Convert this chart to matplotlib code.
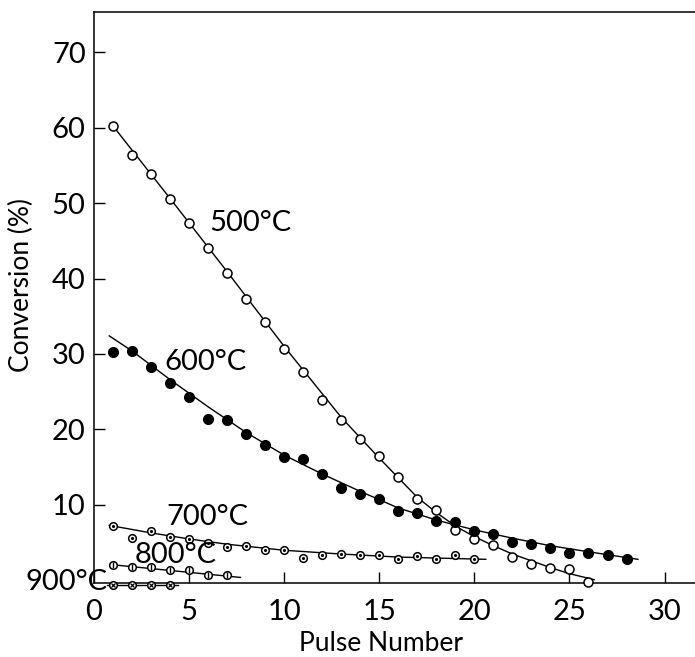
import numpy as np
import matplotlib
matplotlib.use("Agg")
import matplotlib.pyplot as plt

plt.rcParams['font.family'] = ['Lato', 'DejaVu Sans']

# ---------- data ----------
pulse_500 = [1, 2, 3, 4, 5, 6, 7, 8, 9, 10, 11, 12, 13, 14, 15, 16, 17, 18, 19, 20,
             21, 22, 23, 24, 25, 26]
conv_500 = [60.2, 56.3, 53.8, 50.5, 47.4, 44.0, 40.7, 37.3, 34.2, 30.7, 27.6, 23.9,
            21.3, 18.8, 16.5, 13.7, 10.8, 9.3, 6.7, 5.5, 4.7, 3.1, 2.2, 1.6, 1.5, -0.15]

pulse_600 = [1, 2, 3, 4, 5, 6, 7, 8, 9, 10, 11, 12, 13, 14, 15, 16, 17, 18, 19, 20,
             21, 22, 23, 24, 25, 26, 27, 28]
conv_600 = [30.3, 30.4, 28.3, 26.1, 24.3, 21.4, 21.3, 19.4, 18.0, 16.3, 16.1, 14.1,
            12.2, 11.5, 10.75, 9.2, 9.0, 7.9, 7.8, 6.6, 6.1, 5.1, 4.8, 4.3, 3.7, 3.7,
            3.4, 2.9]

pulse_700 = [1, 2, 3, 4, 5, 6, 7, 8, 9, 10, 11, 12, 13, 14, 15, 16, 17, 18, 19, 20]
conv_700 = [7.2, 5.6, 6.5, 5.7, 5.5, 5.0, 4.4, 4.6, 4.1, 4.0, 3.0, 3.4, 3.5, 3.4,
            3.4, 2.9, 3.3, 2.8, 3.4, 2.8]

pulse_800 = [1, 2, 3, 4, 5, 6, 7]
conv_800 = [2.05, 1.8, 1.8, 1.4, 1.4, 0.7, 0.7]

pulse_900 = [1, 2, 3, 4]
conv_900 = [-0.6, -0.6, -0.6, -0.6]

# hand-drawn curves through the points
fit_500_x = [1, 4, 7, 10, 13, 15, 16, 17, 18, 19, 20, 21, 22, 23, 24, 25, 26.3]
fit_500_y = [60.2, 50.6, 40.9, 31.0, 21.6, 16.2, 13.6, 11.0, 9.0, 7.2, 5.8, 4.6,
             3.5, 2.6, 1.7, 0.9, 0.1]
fit_600_x = [0.8, 2, 4, 6, 8, 10, 12, 14, 16, 18, 20, 22, 24, 26, 28.6]
fit_600_y = [32.4, 30.4, 26.6, 23.0, 19.6, 16.6, 14.1, 11.8, 9.6, 8.0, 6.7, 5.6,
             4.6, 3.8, 2.8]
fit_700_x = [0.8, 3, 5, 7, 10, 13, 16, 20.6]
fit_700_y = [7.3, 6.3, 5.5, 4.8, 4.0, 3.5, 3.1, 2.8]
fit_800_x = [0.9, 7.7]
fit_800_y = [2.1, 0.4]
fit_900_x = [0.7, 4.4]
fit_900_y = [-0.6, -0.6]

labels = ['500°C', '600°C', '700°C', '800°C', '900°C']
x_ticks = [0, 5, 10, 15, 20, 25, 30]
y_ticks = [10, 20, 30, 40, 50, 60, 70]


def main():
    fig = plt.figure(figsize=(6.95, 6.57), dpi=100)
    ax = fig.add_axes([0.1353, 0.1119, 0.8647, 0.8698])

    # ----------curves----------
    for fx, fy in [(fit_500_x, fit_500_y), (fit_600_x, fit_600_y),
                   (fit_700_x, fit_700_y), (fit_800_x, fit_800_y),
                   (fit_900_x, fit_900_y)]:
        ax.plot(fx, fy, color='black', lw=1.0, clip_on=False, zorder=2)

    # ----------points----------
    ring = dict(ls='none', marker='o', ms=6.5, mfc='white', mec='black', mew=1.1,
                clip_on=False, zorder=3)
    ax.plot(pulse_500, conv_500, **ring)
    ax.plot(pulse_600, conv_600, ls='none', marker='o', ms=7, mfc='black',
            mec='black', clip_on=False, zorder=3)
    small = dict(ring, ms=5.5)
    ax.plot(pulse_700, conv_700, **small)
    ax.plot(pulse_700, conv_700, ls='none', marker='.', ms=2.5, color='black',
            clip_on=False, zorder=4)
    ax.plot(pulse_800, conv_800, **small)
    ax.plot(pulse_800, conv_800, ls='none', marker='|', ms=5, mew=1.0,
            color='black', clip_on=False, zorder=4)
    ax.plot(pulse_900, conv_900, **small)
    ax.plot(pulse_900, conv_900, ls='none', marker='x', ms=3.5, mew=0.9,
            color='black', clip_on=False, zorder=4)

    # ----------labels on curves----------
    fs = 21
    ax.text(6.05, 47.3, labels[0], fontsize=fs, va='center', ha='left')
    ax.text(3.7, 29.0, labels[1], fontsize=fs, va='center', ha='left')
    ax.text(3.8, 8.45, labels[2], fontsize=fs, va='center', ha='left')
    ax.text(2.15, 3.4, labels[3], fontsize=fs, va='center', ha='left')
    ax.text(-3.6, -0.15, labels[4], fontsize=fs, va='center', ha='left',
            clip_on=False)

    # ----------axes----------
    ax.set_xlim(0, 31.6)
    ax.set_ylim(-0.4, 75.3)
    ax.set_xticks(x_ticks)
    ax.set_yticks(y_ticks)
    ax.tick_params(direction='in', length=8, width=1.0, labelsize=fs)
    ax.tick_params(axis='x', pad=11)
    ax.tick_params(axis='y', pad=6)
    ax.spines['right'].set_visible(False)
    for s in ['left', 'bottom', 'top']:
        ax.spines[s].set_linewidth(1.1)
    ax.set_xlabel('Pulse Number', fontsize=19)
    ax.set_ylabel('Conversion (%)', fontsize=19)
    ax.xaxis.set_label_coords(0.478, -0.084)
    ax.yaxis.set_label_coords(-0.10, 0.522)

    fig.savefig('out.png', dpi=100)


if __name__ == '__main__':
    main()
